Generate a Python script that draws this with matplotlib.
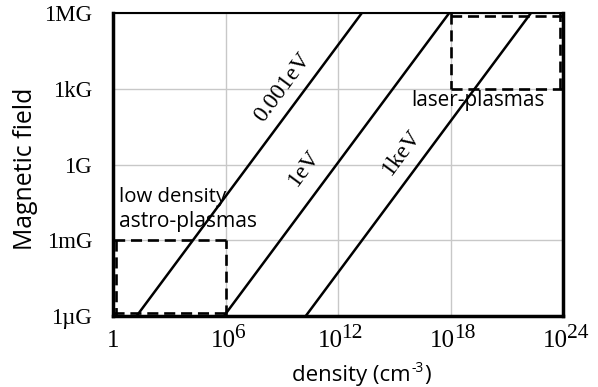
import matplotlib
matplotlib.use("Agg")
import matplotlib.pyplot as plt
from matplotlib.transforms import blended_transform_factory, offset_copy
import numpy as np

# Data
line_labels = ["0.001eV", "1eV", "1keV"]
log_n_at_bottom = [1.26, 5.92, 10.28]   # log10 density where line meets 1 µG
log_n_at_top = [13.26, 17.92, 22.28]     # log10 density where line meets 1 MG
B_range = [1e-6, 1e6]
x_ticks = [1, 1e6, 1e12, 1e18, 1e24]
x_tick_base = ["1", "10", "10", "10", "10"]
x_tick_exp = ["", "6", "12", "18", "24"]
y_ticks = [1e-6, 1e-3, 1, 1e3, 1e6]
y_tick_labels = ["1µG", "1mG", "1G", "1kG", "1MG"]
astro_box = dict(n=[1, 1e6], B=[1e-6, 1e-3])
laser_box = dict(n=[1e18, 1e24], B=[1e3, 1e6])
XLIM = (1, 1e24)
YLIM = (1e-6, 1e6)

W, H = 598, 387
fig = plt.figure(figsize=(W/100, H/100), dpi=100)
ax = fig.add_axes([113/W, 1-316/H, (563-113)/W, (316-13.3)/H])
ax.set_xscale('log')
ax.set_yscale('log')
ax.set_xlim(*XLIM)
ax.set_ylim(*YLIM)

ax.grid(True, color='#c8c8c8', linewidth=1.0)
ax.set_axisbelow(True)

for lab, lb, lt in zip(line_labels, log_n_at_bottom, log_n_at_top):
    ax.plot([10**lb, 10**lt], B_range, color='black', linewidth=1.8, solid_capstyle='butt')

# dashed boxes; edges that sit on the frame are nudged just inside it
inset = 3
for box in (astro_box, laser_box):
    x0, x1 = box['n']
    y0, y1 = box['B']
    edges = [((x0, x1), (y0, y0)), ((x1, x1), (y0, y1)),
             ((x1, x0), (y1, y1)), ((x0, x0), (y1, y0))]
    for xs, ys in edges:
        dx = dy = 0
        if xs[0] == xs[1] == XLIM[0]:
            dx = inset
        if xs[0] == xs[1] == XLIM[1]:
            dx = -inset
        if ys[0] == ys[1] == YLIM[0]:
            dy = inset
        if ys[0] == ys[1] == YLIM[1]:
            dy = -inset
        tr = offset_copy(ax.transData, fig=fig, x=dx, y=dy, units='dots')
        ax.plot(xs, ys, color='black', linewidth=1.9, linestyle=(0, (4.2, 2.2)),
                transform=tr, clip_on=False, zorder=3)

ax.set_xticks(x_ticks)
ax.set_xticklabels([])
ax.set_yticks(y_ticks)
ax.set_yticklabels(y_tick_labels, family='Liberation Serif')
ax.minorticks_off()
ax.tick_params(axis='both', length=0)
ax.tick_params(axis='y', pad=15, labelsize=16.5)

for name, s in ax.spines.items():
    s.set_color('black')
    s.set_linewidth(1.5 if name == 'top' else 2.5)

# x tick labels: base and superscript exponent
trans = blended_transform_factory(ax.transData, ax.transAxes)
for xt, b, e in zip(x_ticks, x_tick_base, x_tick_exp):
    if e == "":
        ax.annotate(b, xy=(xt, 0), xycoords=trans, xytext=(0, -31),
                    textcoords='offset pixels', ha='center', va='baseline',
                    family='Liberation Serif', fontsize=18)
    else:
        wb = 25.0
        we = 11.0 * len(e)
        shift = (wb - we) / 2.0 + 3
        ax.annotate(b, xy=(xt, 0), xycoords=trans, xytext=(shift, -31),
                    textcoords='offset pixels', ha='right', va='baseline',
                    family='Liberation Serif', fontsize=18)
        ax.annotate(e, xy=(xt, 0), xycoords=trans, xytext=(shift - 1, -22),
                    textcoords='offset pixels', ha='left', va='baseline',
                    family='Liberation Serif', fontsize=15.5)

renderer = fig.canvas.get_renderer()

def fit(t, target, vertical=False):
    bb = t.get_window_extent(renderer=renderer)
    cur = bb.height if vertical else bb.width
    t.set_fontsize(t.get_fontsize() * target / cur)

label_pix = [(283, 87), (304, 168), (402, 152)]
for lab, (px, py) in zip(line_labels, label_pix):
    fig.text(px/W, 1-py/H, lab, family='Liberation Serif', fontsize=17,
             rotation=53.5, ha='center', va='center', rotation_mode='anchor')

t1 = fig.text(119/W, 1-202/H, "low density", family='Open Sans',
              fontsize=12, ha='left', va='baseline')
t2 = fig.text(119/W, 1-227/H, "astro-plasmas", family='Open Sans',
              fontsize=12, ha='left', va='baseline')
fit(t1, 107)
fit(t2, 137)
t3 = fig.text(478/W, 1-106/H, "laser-plasmas", family='Open Sans',
              fontsize=12, ha='center', va='baseline')
fit(t3, 133)

t4 = fig.text(26/W, 1-169/H, "Magnetic field", family='Open Sans', fontsize=13,
              rotation=90, ha='center', va='center')
fit(t4, 162, vertical=True)

# x-axis label: "density (cm" + raised "-3" + ")"
xl_size = 16
ta = fig.text(292/W, 1-381/H, "density (cm", family='Open Sans',
              fontsize=xl_size, ha='left', va='baseline')
tb = ax.annotate("-3", xy=(1, 0), xycoords=ta, xytext=(1, 10),
                 textcoords='offset pixels', ha='left', va='bottom',
                 family='Open Sans', fontsize=xl_size*0.62, annotation_clip=False)
tc = ax.annotate(")", xy=(1, 0), xycoords=tb, xytext=(0, -10),
                 textcoords='offset pixels', ha='left', va='bottom',
                 family='Open Sans', fontsize=xl_size, annotation_clip=False)

fig.savefig("out.png", dpi=100)
